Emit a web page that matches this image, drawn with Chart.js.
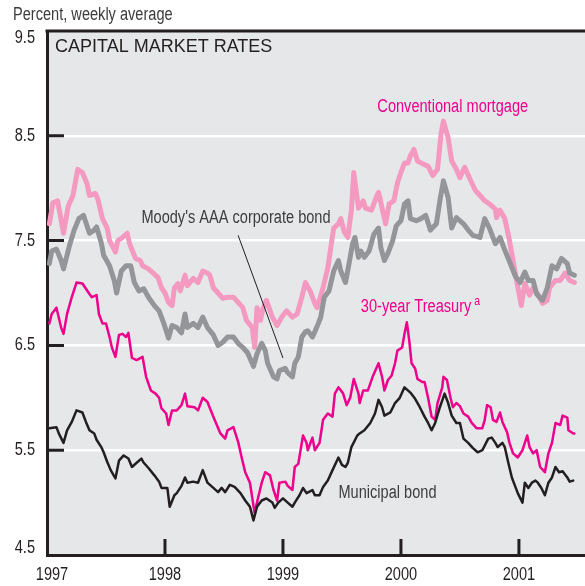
<!DOCTYPE html>
<html>
<head>
<meta charset="utf-8">
<script src="https://cdn.jsdelivr.net/npm/chart.js@4.4.1/dist/chart.umd.min.js"></script>
<style>
  html, body { margin: 0; padding: 0; background: #fff; }
  #wrap { width: 585px; height: 586px; }
</style>
</head>
<body>
<div id="wrap"><canvas id="rates" width="585" height="586"></canvas></div>
<script>
// axis ticks
const yearTicks = [1997, 1998, 1999, 2000, 2001];
const rateTicks = [4.5, 5.5, 6.5, 7.5, 8.5, 9.5];

// weekly averages: [year, percent]
const mortgage = [
  [1997.02,7.66],[1997.05,7.86],[1997.09,7.88],[1997.14,7.57],[1997.18,7.83],[1997.22,7.93],
  [1997.26,8.18],[1997.30,8.15],[1997.34,8.04],[1997.36,7.93],[1997.41,7.95],[1997.43,7.90],
  [1997.47,7.71],[1997.51,7.62],[1997.53,7.50],[1997.58,7.39],[1997.60,7.50],[1997.64,7.53],
  [1997.68,7.57],[1997.70,7.47],[1997.75,7.33],[1997.79,7.31],[1997.81,7.26],[1997.86,7.23],
  [1997.90,7.19],[1997.94,7.15],[1997.97,7.05],[1998.00,7.00],[1998.03,6.91],[1998.06,6.88],
  [1998.08,7.05],[1998.11,7.09],[1998.13,7.02],[1998.17,7.17],[1998.19,7.07],[1998.24,7.14],
  [1998.28,7.10],[1998.32,7.21],[1998.36,7.19],[1998.38,7.17],[1998.41,7.05],[1998.45,7.00],
  [1998.49,6.95],[1998.53,6.96],[1998.58,6.96],[1998.62,6.91],[1998.66,6.86],[1998.69,6.74],
  [1998.74,6.67],[1998.76,6.48],[1998.78,6.86],[1998.81,6.74],[1998.83,6.85],[1998.86,6.93],
  [1998.91,6.77],[1998.95,6.69],[1998.99,6.77],[1999.03,6.83],[1999.08,6.77],[1999.12,6.80],
  [1999.16,6.96],[1999.19,7.10],[1999.23,7.02],[1999.27,6.90],[1999.29,6.86],[1999.34,7.05],
  [1999.38,7.24],[1999.41,7.47],[1999.43,7.62],[1999.47,7.66],[1999.49,7.71],[1999.52,7.58],
  [1999.55,7.53],[1999.58,7.79],[1999.60,8.15],[1999.64,7.81],[1999.68,7.88],[1999.70,7.81],
  [1999.75,7.79],[1999.79,7.91],[1999.81,7.96],[1999.85,7.76],[1999.87,7.66],[1999.90,7.85],
  [1999.94,7.88],[1999.97,8.05],[2000.00,8.15],[2000.03,8.24],[2000.06,8.24],[2000.08,8.31],
  [2000.11,8.37],[2000.14,8.26],[2000.19,8.23],[2000.23,8.21],[2000.27,8.12],[2000.31,8.18],
  [2000.34,8.52],[2000.36,8.64],[2000.40,8.48],[2000.43,8.26],[2000.47,8.18],[2000.50,8.10],
  [2000.54,8.20],[2000.58,8.10],[2000.63,7.98],[2000.67,7.93],[2000.71,7.88],[2000.75,7.85],
  [2000.80,7.80],[2000.81,7.72],[2000.84,7.79],[2000.88,7.71],[2000.92,7.50],[2000.95,7.31],
  [2000.98,7.12],[2001.02,6.88],[2001.05,7.09],[2001.09,6.98],[2001.12,7.05],[2001.16,6.99],
  [2001.20,6.90],[2001.24,6.93],[2001.26,7.05],[2001.31,7.12],[2001.35,7.12],[2001.39,7.19],
  [2001.43,7.12],[2001.47,7.10]
];

const corporate = [
  [1997.02,7.28],[1997.04,7.40],[1997.08,7.42],[1997.12,7.31],[1997.14,7.23],[1997.19,7.45],
  [1997.23,7.60],[1997.27,7.71],[1997.31,7.74],[1997.36,7.57],[1997.40,7.60],[1997.42,7.63],
  [1997.46,7.48],[1997.48,7.36],[1997.53,7.26],[1997.57,7.12],[1997.59,7.00],[1997.63,7.21],
  [1997.67,7.26],[1997.71,7.26],[1997.74,7.10],[1997.78,7.02],[1997.82,7.04],[1997.86,6.96],
  [1997.91,6.88],[1997.95,6.83],[1997.99,6.71],[1998.03,6.57],[1998.06,6.69],[1998.10,6.67],
  [1998.14,6.62],[1998.17,6.80],[1998.19,6.67],[1998.24,6.71],[1998.28,6.67],[1998.32,6.77],
  [1998.36,6.67],[1998.41,6.60],[1998.45,6.50],[1998.49,6.53],[1998.53,6.58],[1998.58,6.58],
  [1998.62,6.52],[1998.66,6.48],[1998.70,6.43],[1998.75,6.30],[1998.78,6.42],[1998.82,6.52],
  [1998.85,6.45],[1998.87,6.33],[1998.92,6.20],[1998.95,6.18],[1998.97,6.26],[1999.02,6.28],
  [1999.04,6.24],[1999.08,6.20],[1999.10,6.33],[1999.13,6.39],[1999.16,6.58],[1999.19,6.63],
  [1999.21,6.64],[1999.25,6.58],[1999.27,6.63],[1999.30,6.71],[1999.32,6.77],[1999.35,6.96],
  [1999.39,7.02],[1999.43,7.21],[1999.47,7.31],[1999.49,7.21],[1999.53,7.10],[1999.56,7.28],
  [1999.59,7.47],[1999.61,7.53],[1999.64,7.34],[1999.66,7.40],[1999.69,7.34],[1999.73,7.40],
  [1999.77,7.56],[1999.81,7.62],[1999.83,7.43],[1999.86,7.31],[1999.89,7.38],[1999.93,7.50],
  [1999.96,7.64],[2000.00,7.69],[2000.03,7.85],[2000.06,7.88],[2000.08,7.71],[2000.13,7.69],
  [2000.17,7.71],[2000.21,7.74],[2000.25,7.60],[2000.30,7.66],[2000.33,7.88],[2000.36,8.07],
  [2000.40,7.91],[2000.43,7.62],[2000.47,7.72],[2000.53,7.66],[2000.57,7.60],[2000.61,7.55],
  [2000.67,7.53],[2000.71,7.71],[2000.75,7.62],[2000.80,7.47],[2000.84,7.53],[2000.88,7.41],
  [2000.92,7.30],[2000.97,7.16],[2001.01,7.10],[2001.05,7.20],[2001.08,7.12],[2001.12,7.12],
  [2001.15,6.99],[2001.20,6.93],[2001.24,7.05],[2001.28,7.26],[2001.32,7.23],[2001.36,7.33],
  [2001.41,7.28],[2001.43,7.19],[2001.47,7.17]
];

const treasury = [
  [1997.02,6.71],[1997.04,6.80],[1997.08,6.86],[1997.12,6.67],[1997.14,6.61],[1997.17,6.80],
  [1997.21,6.96],[1997.25,7.10],[1997.30,7.09],[1997.33,7.04],[1997.36,6.99],[1997.38,6.96],
  [1997.42,6.98],[1997.44,6.80],[1997.47,6.71],[1997.50,6.71],[1997.53,6.58],[1997.55,6.48],
  [1997.58,6.39],[1997.61,6.60],[1997.64,6.61],[1997.67,6.58],[1997.69,6.62],[1997.72,6.38],
  [1997.76,6.36],[1997.81,6.39],[1997.84,6.20],[1997.88,6.07],[1997.92,6.04],[1997.95,6.00],
  [1997.97,5.90],[1998.01,5.85],[1998.03,5.74],[1998.06,5.88],[1998.10,5.88],[1998.14,5.93],
  [1998.17,6.04],[1998.19,5.92],[1998.25,5.91],[1998.28,5.88],[1998.32,6.00],[1998.36,5.96],
  [1998.41,5.82],[1998.47,5.66],[1998.51,5.61],[1998.53,5.69],[1998.58,5.72],[1998.62,5.58],
  [1998.65,5.43],[1998.68,5.29],[1998.72,5.19],[1998.76,4.90],[1998.79,5.05],[1998.82,5.19],
  [1998.85,5.29],[1998.89,5.26],[1998.92,5.12],[1998.95,5.02],[1998.97,5.19],[1999.02,5.20],
  [1999.04,5.16],[1999.08,5.12],[1999.10,5.34],[1999.13,5.37],[1999.17,5.64],[1999.20,5.57],
  [1999.21,5.50],[1999.25,5.62],[1999.27,5.50],[1999.31,5.57],[1999.34,5.79],[1999.38,5.85],
  [1999.42,5.82],[1999.44,6.04],[1999.47,6.10],[1999.51,6.04],[1999.54,5.93],[1999.57,6.00],
  [1999.60,6.18],[1999.64,6.04],[1999.65,5.95],[1999.68,6.07],[1999.72,6.07],[1999.76,6.20],
  [1999.81,6.33],[1999.84,6.20],[1999.86,6.07],[1999.89,6.17],[1999.92,6.21],[1999.95,6.33],
  [1999.97,6.45],[2000.01,6.48],[2000.03,6.61],[2000.05,6.72],[2000.07,6.55],[2000.09,6.33],
  [2000.12,6.28],[2000.14,6.18],[2000.18,6.15],[2000.20,6.15],[2000.23,6.00],[2000.26,5.82],
  [2000.29,5.79],[2000.31,5.95],[2000.35,6.10],[2000.36,6.20],[2000.39,6.17],[2000.42,6.00],
  [2000.44,5.91],[2000.47,5.95],[2000.50,5.92],[2000.53,5.85],[2000.57,5.82],[2000.60,5.76],
  [2000.64,5.71],[2000.69,5.71],[2000.71,5.79],[2000.73,5.93],[2000.76,5.91],[2000.78,5.79],
  [2000.81,5.77],[2000.84,5.86],[2000.86,5.77],[2000.90,5.67],[2000.92,5.57],[2000.95,5.47],
  [2000.99,5.43],[2001.03,5.50],[2001.07,5.64],[2001.09,5.53],[2001.12,5.47],[2001.15,5.50],
  [2001.18,5.34],[2001.22,5.29],[2001.25,5.47],[2001.28,5.57],[2001.31,5.76],[2001.35,5.74],
  [2001.37,5.83],[2001.41,5.81],[2001.42,5.69],[2001.46,5.66],[2001.47,5.66]
];

const municipal = [
  [1997.02,5.71],[1997.08,5.72],[1997.10,5.66],[1997.14,5.57],[1997.17,5.69],[1997.21,5.77],
  [1997.25,5.88],[1997.30,5.86],[1997.33,5.77],[1997.36,5.69],[1997.40,5.66],[1997.42,5.60],
  [1997.46,5.53],[1997.48,5.48],[1997.51,5.39],[1997.54,5.31],[1997.58,5.23],[1997.61,5.40],
  [1997.65,5.45],[1997.69,5.42],[1997.72,5.34],[1997.76,5.38],[1997.80,5.42],[1997.82,5.38],
  [1997.86,5.33],[1997.91,5.26],[1997.95,5.20],[1997.97,5.14],[1998.02,5.14],[1998.04,4.96],
  [1998.08,5.07],[1998.10,5.09],[1998.14,5.16],[1998.17,5.24],[1998.19,5.19],[1998.24,5.20],
  [1998.28,5.19],[1998.32,5.31],[1998.36,5.19],[1998.41,5.14],[1998.45,5.10],[1998.48,5.14],
  [1998.51,5.10],[1998.55,5.17],[1998.59,5.15],[1998.64,5.09],[1998.68,5.02],[1998.72,4.96],
  [1998.75,4.83],[1998.78,4.96],[1998.82,5.02],[1998.86,5.04],[1998.91,5.00],[1998.93,4.95],
  [1998.96,5.00],[1999.00,5.04],[1999.04,5.00],[1999.08,4.96],[1999.10,5.00],[1999.14,5.07],
  [1999.17,5.14],[1999.20,5.09],[1999.25,5.12],[1999.27,5.07],[1999.31,5.07],[1999.34,5.15],
  [1999.38,5.21],[1999.42,5.31],[1999.47,5.43],[1999.50,5.36],[1999.53,5.34],[1999.55,5.38],
  [1999.58,5.53],[1999.63,5.64],[1999.65,5.66],[1999.69,5.69],[1999.74,5.76],[1999.78,5.85],
  [1999.81,5.98],[1999.84,5.91],[1999.86,5.83],[1999.91,5.86],[1999.95,5.95],[1999.99,6.00],
  [2000.03,6.10],[2000.08,6.05],[2000.12,5.99],[2000.16,5.91],[2000.20,5.82],[2000.23,5.76],
  [2000.26,5.69],[2000.29,5.76],[2000.33,5.91],[2000.37,6.04],[2000.40,5.95],[2000.43,5.83],
  [2000.47,5.76],[2000.50,5.76],[2000.53,5.61],[2000.57,5.57],[2000.61,5.52],[2000.65,5.48],
  [2000.69,5.50],[2000.74,5.61],[2000.77,5.62],[2000.80,5.57],[2000.82,5.53],[2000.86,5.57],
  [2000.88,5.53],[2000.91,5.38],[2000.94,5.24],[2000.97,5.15],[2000.99,5.09],[2001.03,5.00],
  [2001.05,5.19],[2001.08,5.14],[2001.11,5.19],[2001.14,5.21],[2001.16,5.19],[2001.19,5.14],
  [2001.22,5.07],[2001.25,5.19],[2001.28,5.24],[2001.31,5.34],[2001.34,5.29],[2001.37,5.30],
  [2001.41,5.24],[2001.43,5.20],[2001.46,5.21]
];

// series labels placed in data coordinates: text, year, percent, colour
const seriesLabels = [
  ["Moody's AAA corporate bond", 1997.80, 7.72, '#3c3c3e'],
  ['Conventional mortgage', 1999.80, 8.77, '#ec008c'],
  ['30-year Treasury', 1999.66, 6.87, '#ec008c'],
  ['Municipal bond', 1999.47, 5.09, '#3c3c3e']
];
// leader line from the Moody's label to its series
const leader = [[1998.62, 7.55], [1999.00, 6.38]];

const SANS = '"Liberation Sans", Arial, sans-serif';
const INK = '#231f20';
const SQUEEZE = 0.81;   // the original uses a condensed face

// condensed text: squeeze a regular face horizontally
function narrowText(ctx, text, x, y, size, color, align) {
  ctx.save();
  ctx.font = size + 'px ' + SANS;
  ctx.fillStyle = color;
  ctx.textBaseline = 'middle';
  ctx.textAlign = align || 'left';
  ctx.translate(x, y);
  ctx.scale(SQUEEZE, 1);
  ctx.fillText(text, 0, 0);
  const w = ctx.measureText(text).width * SQUEEZE;
  ctx.restore();
  return w;
}

const toXY = arr => arr.map(([x, y]) => ({ x, y }));

const framePlugin = {
  id: 'frame',
  beforeDraw(chart) {
    const { ctx, chartArea: a } = chart;
    ctx.save();
    ctx.fillStyle = '#fff';
    ctx.fillRect(0, 0, chart.width, chart.height);
    ctx.fillStyle = '#e6e7e8';
    ctx.fillRect(a.left, a.top, a.right - a.left, a.bottom - a.top);
    ctx.restore();
  },
  afterDraw(chart) {
    const { ctx, chartArea: a, scales } = chart;
    const x = scales.x, y = scales.y;
    ctx.save();
    ctx.strokeStyle = INK;
    ctx.lineWidth = 3;
    // top border
    ctx.beginPath();
    ctx.moveTo(a.left - 1.5, a.top);
    ctx.lineTo(a.right, a.top);
    ctx.stroke();
    // inward tick marks
    ctx.beginPath();
    rateTicks.slice(1, -1).forEach(v => {
      const py = y.getPixelForValue(v);
      ctx.moveTo(a.left, py);
      ctx.lineTo(a.left + 17, py);
    });
    yearTicks.slice(1).forEach(v => {
      const px = x.getPixelForValue(v);
      ctx.moveTo(px, a.bottom);
      ctx.lineTo(px, a.bottom - 16);
    });
    ctx.stroke();

    // leader line
    ctx.lineWidth = 1;
    ctx.beginPath();
    ctx.moveTo(x.getPixelForValue(leader[0][0]), y.getPixelForValue(leader[0][1]));
    ctx.lineTo(x.getPixelForValue(leader[1][0]), y.getPixelForValue(leader[1][1]));
    ctx.stroke();
    ctx.restore();

    // tick labels, kept inside the frame at the ends
    rateTicks.forEach(v => {
      const py = Math.min(Math.max(y.getPixelForValue(v), a.top + 7), a.bottom - 7);
      narrowText(ctx, v.toFixed(1), a.left - 12, py, 18, INK, 'right');
    });
    yearTicks.forEach(v => {
      const px = Math.max(x.getPixelForValue(v), a.left + 5);
      narrowText(ctx, String(v), px, a.bottom + 20, 18, INK, 'center');
    });

    // titles
    ctx.save();
    ctx.textBaseline = 'middle';
    ctx.fillStyle = INK;
    ctx.font = '18px ' + SANS;
    ctx.fillText('CAPITAL MARKET RATES', a.left + 8, a.top + 16);
    ctx.restore();
    narrowText(ctx, 'Percent, weekly average', 13, 15, 18, '#3c3c3e');

    // series labels
    seriesLabels.forEach(([text, vx, vy, color]) => {
      const px = x.getPixelForValue(vx), py = y.getPixelForValue(vy);
      const w = narrowText(ctx, text, px, py, 18, color);
      if (text.startsWith('30-year')) narrowText(ctx, 'a', px + w + 3, py - 5, 13, color);
    });
  }
};

new Chart(document.getElementById('rates'), {
  type: 'line',
  data: {
    datasets: [
      { label: "Moody's AAA corporate bond", data: toXY(corporate), borderColor: '#939598', borderWidth: 5 },
      { label: 'Municipal bond', data: toXY(municipal), borderColor: INK, borderWidth: 2.5 },
      { label: '30-year Treasury', data: toXY(treasury), borderColor: '#ec008c', borderWidth: 2.5 },
      { label: 'Conventional mortgage', data: toXY(mortgage), borderColor: '#f49ac1', borderWidth: 5 }
    ]
  },
  options: {
    responsive: false,
    animation: false,
    devicePixelRatio: 1,
    layout: { padding: { top: 31, right: 0, left: 0, bottom: 0 } },
    elements: {
      point: { radius: 0 },
      line: { tension: 0, borderJoinStyle: 'round', borderCapStyle: 'round', fill: false }
    },
    plugins: {
      legend: { display: false },
      tooltip: { enabled: false }
    },
    scales: {
      x: {
        type: 'linear',
        min: 1997,
        max: 2001.56,
        afterBuildTicks: s => { s.ticks = yearTicks.map(v => ({ value: v })); },
        afterFit: s => { s.height = 31; },
        ticks: { display: false },
        grid: { display: false, drawTicks: false },
        border: { display: true, color: INK, width: 3 }
      },
      y: {
        min: 4.5,
        max: 9.5,
        afterBuildTicks: s => { s.ticks = rateTicks.map(v => ({ value: v })); },
        afterFit: s => { s.width = 47; },
        ticks: { display: false },
        grid: {
          drawTicks: false,
          lineWidth: 2.5,
          color: c => (c.tick && (c.tick.value === 4.5 || c.tick.value === 9.5)) ? 'rgba(0,0,0,0)' : '#ffffff'
        },
        border: { display: true, color: INK, width: 3 }
      }
    }
  },
  plugins: [framePlugin]
});
</script>
</body>
</html>
